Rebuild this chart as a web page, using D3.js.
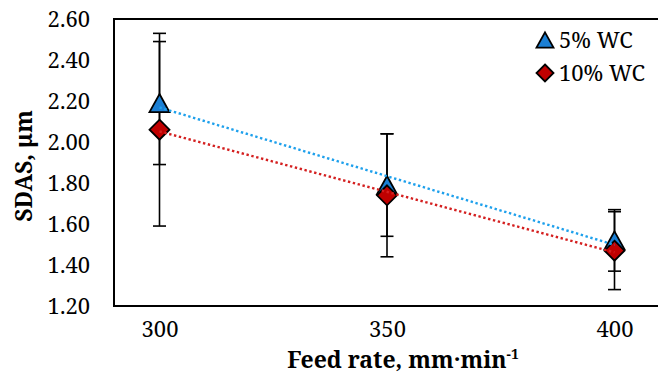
<!DOCTYPE html>
<html>
<head>
<meta charset="utf-8">
<script src="https://cdn.jsdelivr.net/npm/d3@7"></script>
<style>
  body { margin: 0; background: #fff; }
  svg { display: block; }
  text { font-family: "Noto Serif", serif; fill: #000; }
</style>
</head>
<body>
<svg id="chart" width="658" height="374"></svg>
<script>
// feed rate categories
const feedRates = [300, 350, 400];
// SDAS values and error bar half-widths
const wc5 = [2.19, 1.79, 1.52];
const wc5Err = [0.30, 0.25, 0.15];
const wc10 = [2.06, 1.74, 1.47];
const wc10Err = [0.47, 0.30, 0.19];
const yTicks = [1.2, 1.4, 1.6, 1.8, 2.0, 2.2, 2.4, 2.6];
const seriesNames = ['5% WC', '10% WC'];

const margin = { top: 19, right: -2, bottom: 68, left: 114 },
  width = 658 - margin.left - margin.right,
  height = 374 - margin.top - margin.bottom;

const svg = d3.select('#chart');

const x = d3.scaleLinear().domain([290, 410]).range([margin.left, margin.left + width]);
const y = d3.scaleLinear().domain([1.2, 2.6]).range([margin.top + height, margin.top]);

// excel-like marker shapes (size = half width)
const triangle = {
  draw(ctx, r) {
    const h = r * 0.9;
    ctx.moveTo(0, -h);
    ctx.lineTo(r, h);
    ctx.lineTo(-r, h);
    ctx.closePath();
  }
};
const diamond = {
  draw(ctx, r) {
    ctx.moveTo(0, -r);
    ctx.lineTo(r, 0);
    ctx.lineTo(0, r);
    ctx.lineTo(-r, 0);
    ctx.closePath();
  }
};

// plot area border
svg.append('rect')
  .attr('x', x(290)).attr('y', y(2.6))
  .attr('width', x(410) - x(290)).attr('height', y(1.2) - y(2.6))
  .attr('fill', 'none').attr('stroke', '#000').attr('stroke-width', 2);

const yAxis = d3.axisLeft(y).tickValues(yTicks).tickFormat(d3.format('.2f')).tickSize(0).tickPadding(24);
svg.append('g')
  .attr('transform', 'translate(' + margin.left + ',0)')
  .call(yAxis)
  .call(g => g.select('.domain').remove())
  .selectAll('text')
  .style('font-family', '"Noto Serif", serif')
  .style('font-size', '22px');

const xAxis = d3.axisBottom(x).tickValues(feedRates).tickFormat(d3.format('d')).tickSize(0).tickPadding(15);
svg.append('g')
  .attr('transform', 'translate(0,' + (margin.top + height) + ')')
  .call(xAxis)
  .call(g => g.select('.domain').remove())
  .selectAll('text')
  .style('font-family', '"Noto Serif", serif')
  .style('font-size', '22px');

// axis titles
svg.append('text')
  .attr('transform', 'translate(32,166) rotate(-90)')
  .attr('text-anchor', 'middle')
  .style('font-size', '23px')
  .style('font-weight', 'bold')
  .text('SDAS, \u03bcm');

const xt = svg.append('text')
  .attr('x', 403).attr('y', 368)
  .attr('text-anchor', 'middle')
  .style('font-size', '23px')
  .style('font-weight', 'bold');
xt.append('tspan').text('Feed rate, mm\u00b7min');
xt.append('tspan').attr('dy', -9).style('font-size', '14px').text('-1');

const series = [
  { vals: wc5, err: wc5Err, fill: '#1b7fd4', trend: '#1ea0ec', shape: triangle },
  { vals: wc10, err: wc10Err, fill: '#c00000', trend: '#d42020', shape: diamond }
];

// error bars
series.forEach(s => {
  const g = svg.append('g').attr('stroke', '#000').attr('stroke-width', 1.6);
  feedRates.forEach((f, i) => {
    const cx = x(f);
    g.append('line').attr('x1', cx).attr('x2', cx)
      .attr('y1', y(s.vals[i] + s.err[i])).attr('y2', y(s.vals[i] - s.err[i]));
    [s.vals[i] + s.err[i], s.vals[i] - s.err[i]].forEach(v => {
      g.append('line').attr('x1', cx - 6.5).attr('x2', cx + 6.5)
        .attr('y1', y(v)).attr('y2', y(v));
    });
  });
});

// markers
series.forEach(s => {
  svg.append('g').selectAll('path')
    .data(s.vals)
    .join('path')
    .attr('transform', (d, i) => 'translate(' + x(feedRates[i]) + ',' + y(d) + ')')
    .attr('d', d3.symbol().type(s.shape).size(10))
    .attr('fill', s.fill)
    .attr('stroke', '#000')
    .attr('stroke-width', 1.8);
});

// linear trendlines
series.forEach(s => {
  const mx = d3.mean(feedRates), my = d3.mean(s.vals);
  const slope = d3.sum(feedRates, (f, i) => (f - mx) * (s.vals[i] - my)) /
    d3.sum(feedRates, f => (f - mx) * (f - mx));
  const line = d3.line().x(d => x(d)).y(d => y(my + slope * (d - mx)));
  svg.append('path')
    .attr('d', line([feedRates[0], feedRates[feedRates.length - 1]]))
    .attr('fill', 'none')
    .attr('stroke', s.trend)
    .attr('stroke-width', 2.4)
    .attr('stroke-dasharray', '2.4 2.6');
});

// legend
const legend = svg.append('g');
series.forEach((s, i) => {
  const ly = 40 + i * 33;
  legend.append('path')
    .attr('transform', 'translate(545,' + ly + ')')
    .attr('d', d3.symbol().type(s.shape).size(8.5))
    .attr('fill', s.fill).attr('stroke', '#000').attr('stroke-width', 1.8);
  legend.append('text')
    .attr('x', 559).attr('y', ly)
    .attr('dy', '0.35em')
    .style('font-size', '22px')
    .text(seriesNames[i]);
});
</script>
</body>
</html>
